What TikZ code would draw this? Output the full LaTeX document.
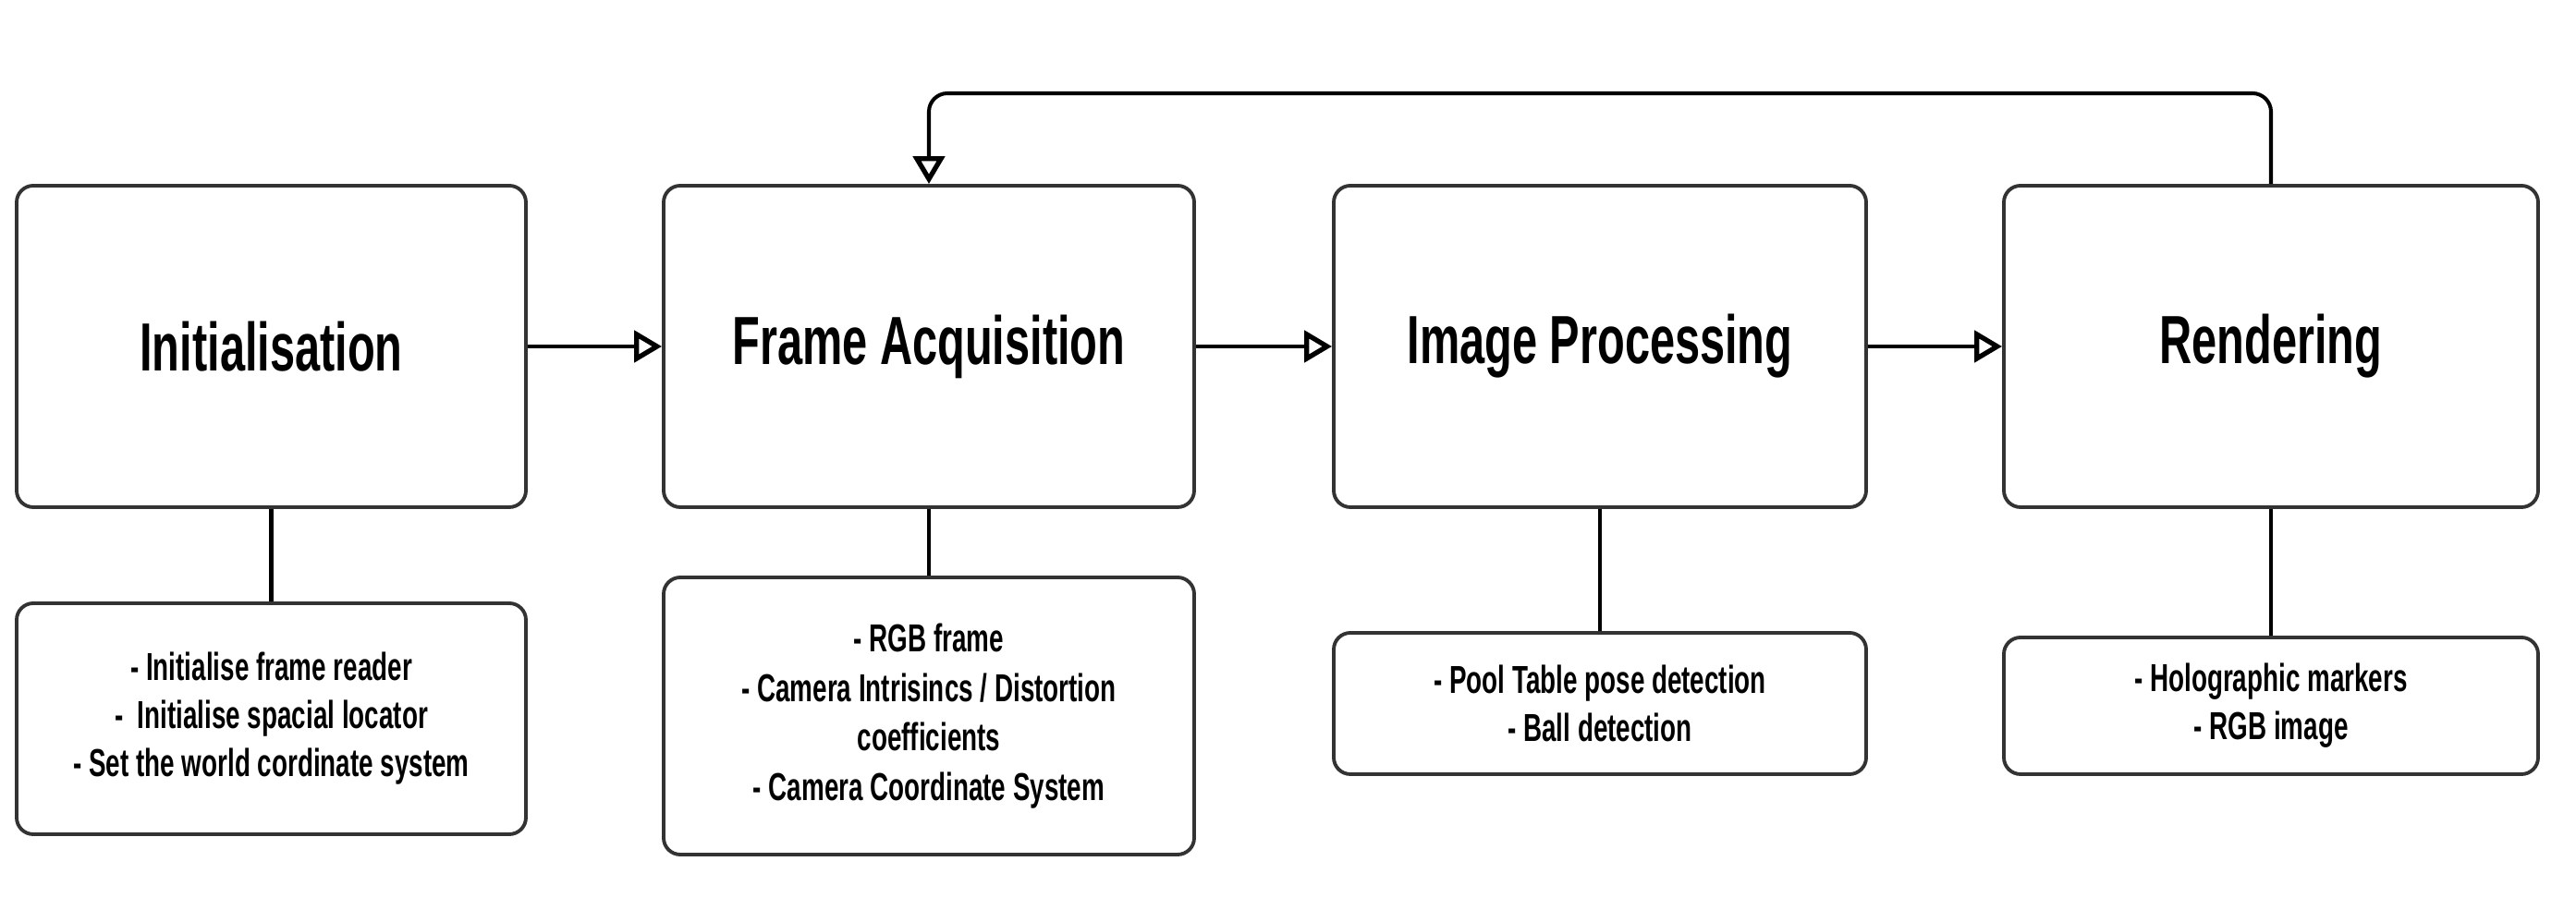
\documentclass[tikz,border=0pt]{standalone}
\usepackage{fontspec}
\newfontfamily\osw{Liberation Sans}[FakeStretch=0.66]
\usetikzlibrary{arrows.meta}
\definecolor{boxline}{HTML}{333333}
\tikzset{
  mainbox/.style={draw=boxline, line width=1.1pt, rounded corners=0.18cm, fill=white,
    minimum height=3.48cm, inner sep=0pt, align=center,
    font=\osw\bfseries\fontsize{21}{25}\selectfont},
  subbox/.style={draw=boxline, line width=1.1pt, rounded corners=0.18cm, fill=white,
    inner sep=0pt, align=center,
    font=\osw\bfseries\fontsize{12}{14.8}\selectfont},
  arr/.style={draw=black, line width=1.15pt,
    -{Triangle[open, length=0.3cm, width=0.34cm, line width=1.5pt]}},
  link/.style={draw=black, line width=1.15pt}
}
\begin{document}
\begin{tikzpicture}
\useasboundingbox (0,0) rectangle (27.87,9.85);
\node[mainbox, minimum width=5.51cm] (b1) at (2.935,6.10) {Initialisation};
\node[mainbox, minimum width=5.74cm] (b2) at (10.05,6.10) {Frame Acquisition};
\node[mainbox, minimum width=5.76cm] (b3) at (17.31,6.10) {Image Processing};
\node[mainbox, minimum width=5.78cm] (b4) at (24.57,6.10) {Rendering};

\node[subbox, minimum width=5.51cm, minimum height=2.50cm] (s1) at (2.935,2.07)
  {- Initialise frame reader\\-~ Initialise spacial locator\\- Set the world cordinate system};
\node[subbox, minimum width=5.74cm, minimum height=3.00cm, font=\osw\bfseries\fontsize{12}{15.2}\selectfont] (s2) at (10.05,2.10)
  {- RGB frame\\- Camera Intrisincs / Distortion\\coefficients\\- Camera Coordinate System};
\node[subbox, minimum width=5.76cm, minimum height=1.53cm] (s3) at (17.31,2.235)
  {- Pool Table pose detection\\- Ball detection};
\node[subbox, minimum width=5.78cm, minimum height=1.48cm] (s4) at (24.57,2.21)
  {- Holographic markers\\- RGB image};

\draw[arr] (b1.east) -- (b2.west);
\draw[arr] (b2.east) -- (b3.west);
\draw[arr] (b3.east) -- (b4.west);

\coordinate (looptop) at (0,8.84);
\draw[arr, rounded corners=0.2cm] (b4.north) |- (b2.north |- looptop) -- (b2.north);

\draw[link] (b1.south) -- (s1.north);
\draw[link] (b2.south) -- (s2.north);
\draw[link] (b3.south) -- (s3.north);
\draw[link] (b4.south) -- (s4.north);
\end{tikzpicture}
\end{document}
